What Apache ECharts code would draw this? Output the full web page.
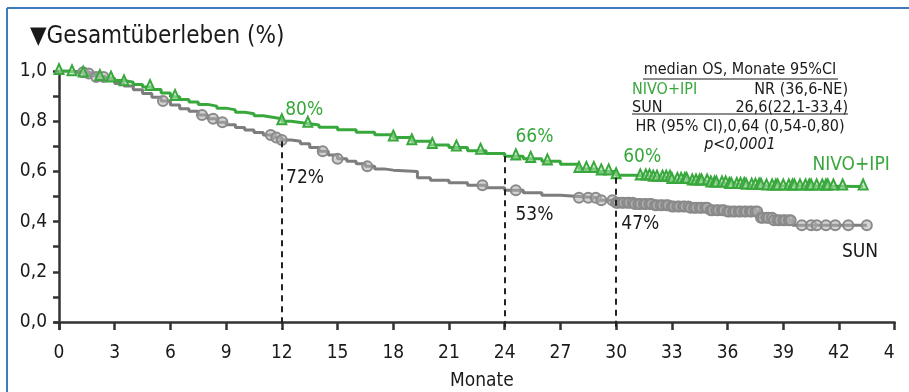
<!DOCTYPE html>
<html><head><meta charset="utf-8">
<script src="https://cdn.jsdelivr.net/npm/echarts@6/dist/echarts.min.js"></script>
<style>html,body{margin:0;padding:0;background:#fff}#c{width:909px;height:392px}</style>
</head><body><div id="c"></div>
<script>
// ---------- data ----------
const xTicks = [0,3,6,9,12,15,18,21,24,27,30,33,36,39,42,45];
const xTickLabels = ['0','3','6','9','12','15','18','21','24','27','30','33','36','39','42','4'];
const yLabelTicks = [0,0.2,0.4,0.6,0.8,1.0];
const yTickLabels = ['0,0','0,2','0,4','0,6','0,8','1,0'];
const yAllTicks = [0,0.1,0.2,0.3,0.4,0.5,0.6,0.7,0.8,0.9,1.0];

const nivoTimes = [0,0.5,1,1.5,2,2.5,3,3.5,4,4.5,5,5.5,6,6.5,7,7.5,8,8.5,9,9.5,10,10.5,11,11.5,12,12.5,13,13.5,14,15,16,17,18,19,20,21,22,23,24,25,26,27,28,29,30,31,32,33,34,35,36,37,38,43.3];
const nivoSurv  = [1.0,0.995,0.99,0.982,0.976,0.97,0.962,0.955,0.946,0.936,0.926,0.912,0.897,0.886,0.876,0.867,0.86,0.852,0.845,0.836,0.83,0.822,0.816,0.81,0.80,0.795,0.79,0.785,0.776,0.766,0.756,0.746,0.735,0.72,0.705,0.695,0.682,0.671,0.66,0.65,0.64,0.628,0.61,0.60,0.585,0.58,0.575,0.566,0.56,0.552,0.546,0.543,0.54,0.54];
const nivoCensor = [0,0.7,1.3,2.2,2.8,3.5,4.9,6.25,12,13.4,18,19,20.1,21.4,22.7,24.6,25.4,26.3,28,28.4,28.8,29.2,29.6,30,31.3,31.6,31.8,32.0,32.2,32.5,32.7,32.9,33.0,33.3,33.5,33.7,33.8,34.1,34.3,34.5,34.6,34.9,35.1,35.3,35.4,35.7,35.9,36.1,36.2,36.5,36.7,36.9,37.0,37.3,37.5,37.7,37.8,38.1,38.4,38.6,38.7,39.0,39.3,39.5,39.6,39.9,40.2,40.4,40.5,40.8,41.1,41.3,41.4,41.7,42.2,43.3];

const sunTimes = [0,0.5,1,1.5,2,2.5,3,3.5,4,4.5,5,5.5,6,6.5,7,7.5,8,8.5,9,9.5,10,10.5,11,11.5,12,12.5,13,13.5,14,14.5,15,15.5,16,16.5,17,17.5,18,19.3,20,21,22,23,24,25,26,27,28,29,30,31,32,33,34,35,36,37.7,38.5,39.5,43.5];
const sunSurv  = [1.0,0.998,0.995,0.99,0.976,0.965,0.95,0.94,0.925,0.91,0.895,0.88,0.865,0.85,0.84,0.825,0.81,0.796,0.786,0.775,0.765,0.755,0.745,0.735,0.725,0.72,0.71,0.695,0.68,0.665,0.65,0.64,0.63,0.62,0.61,0.605,0.60,0.575,0.565,0.555,0.545,0.535,0.525,0.515,0.505,0.50,0.495,0.485,0.475,0.47,0.465,0.46,0.455,0.445,0.44,0.415,0.405,0.385,0.385];
const sunCensor = [1.3,1.6,2.0,2.4,5.6,7.7,8.3,8.8,11.4,11.7,12,14.2,15,16.6,22.8,24.6,28,28.5,28.9,29.2,29.8,30.0,30.1,30.3,30.4,30.6,30.7,30.9,31.0,31.2,31.3,31.5,31.6,31.8,31.9,32.1,32.2,32.4,32.5,32.7,32.8,33.0,33.1,33.3,33.4,33.6,33.7,33.9,34.0,34.2,34.3,34.5,34.6,34.8,34.9,35.1,35.2,35.4,35.5,35.7,35.8,36.0,36.1,36.3,36.4,36.6,36.7,36.9,37.0,37.2,37.3,37.5,37.6,37.8,37.9,38.1,38.2,38.4,38.5,38.7,38.8,39.0,39.1,39.3,39.4,40,40.5,40.8,41.3,41.8,42.5,43.5];

const landmarkMonths = [12,24,30];
const landmarkTop = [0.72,0.66,0.575];
const nivoLandmarkLabels = ['80%','66%','60%'];
const sunLandmarkLabels = ['72%','53%','47%'];
const seriesNames = ['NIVO+IPI','SUN'];

// ---------- styles ----------
const FONT = "'DejaVu Sans Condensed','DejaVu Sans',sans-serif";
const GREEN = '#38a83c';
const GREY = '#7d7d7d';
const INK = '#1a1a1a';

function survAt(times, vals, t){
  let v = vals[0];
  for (let i=0;i<times.length;i++){ if (times[i] <= t) v = vals[i]; else break; }
  return v;
}
const nivoLine = nivoTimes.map((t,i)=>[t,nivoSurv[i]]);
const sunLine = sunTimes.map((t,i)=>[t,sunSurv[i]]);
const nivoMarks = nivoCensor.map(t=>[t,survAt(nivoTimes,nivoSurv,t)]);
const sunMarks = sunCensor.map(t=>[t,survAt(sunTimes,sunSurv,t)]);

const yMin = -0.028;
// label anchor positions (data coords)
const nivoLabelPos = [[13.2,0.845],[25.6,0.737],[31.4,0.657]];
const sunLabelPos = [[13.25,0.574],[25.6,0.426],[31.3,0.39]];
const nameLabelPos = [[42.65,0.625],[43.13,0.279]];

const chart = echarts.init(document.getElementById('c'), null, {renderer:'canvas'});
const textSeries = (pts, labels, colors) => ({
  type:'scatter', symbolSize:0, silent:true, z:5, itemStyle:{opacity:1},
  data: pts.map((p,i)=>({value:p, label:{formatter:labels[i], color:colors[i]}})),
  label:{show:true, position:'inside', fontFamily:FONT, fontSize:19}
});

chart.setOption({
  animation:false,
  grid:{left:55, right:14.3, top:71, bottom:63, containLabel:false, outerBoundsMode:'none'},
  xAxis:{
    type:'value', min:-0.215, max:45,
    name:'Monate', nameLocation:'middle', nameGap:43,
    nameTextStyle:{fontFamily:FONT, fontSize:19, color:INK, padding:[0,0,0,14]},
    axisLine:{show:true, lineStyle:{color:'#333', width:2.5}},
    axisTick:{show:true, customValues:xTicks, length:8, lineStyle:{color:'#333', width:2.5}},
    axisLabel:{customValues:xTicks, margin:15, fontFamily:FONT, fontSize:19, color:INK,
      formatter:(v)=>{const i=xTicks.indexOf(v); return i===xTicks.length-1 ? '{c|'+xTickLabels[i]+'}' : xTickLabels[i];},
      rich:{c:{fontFamily:FONT, fontSize:19, color:INK, padding:[0,11,0,0]}}},
    splitLine:{show:false}
  },
  yAxis:{
    type:'value', min:yMin, max:1.0,
    axisLine:{show:true, lineStyle:{color:'#333', width:2.5}},
    axisTick:{show:true, customValues:yAllTicks, length:6, lineStyle:{color:'#333', width:2.5}},
    axisLabel:{customValues:yLabelTicks, margin:8, fontFamily:FONT, fontSize:19, color:INK,
      formatter:(v)=>{let i=yLabelTicks.findIndex(t=>Math.abs(t-v)<1e-6); return yTickLabels[i];}},
    splitLine:{show:false}
  },
  series:[
    {name:'landmarks', type:'line', data:[], silent:true, z:1,
      markLine:{symbol:['none','none'], silent:true, label:{show:false},
        lineStyle:{color:'#222', width:2, type:[6,5]},
        data: landmarkMonths.map((m,i)=>[{coord:[m,landmarkTop[i]]},{coord:[m,yMin]}])}},
    {name:seriesNames[1], type:'line', step:'end', data:sunLine, showSymbol:false, z:2,
      lineStyle:{color:GREY, width:3}},
    {name:seriesNames[1]+' zensiert', type:'scatter', data:sunMarks, symbol:'circle', symbolSize:10, z:3,
      itemStyle:{opacity:1, color:'rgba(175,175,175,0.55)', borderColor:'#8a8a8a', borderWidth:2}},
    {name:seriesNames[0], type:'line', step:'end', data:nivoLine, showSymbol:false, z:2,
      lineStyle:{color:GREEN, width:3}},
    {name:seriesNames[0]+' zensiert', type:'scatter', data:nivoMarks, symbol:'triangle', symbolSize:[9,10], symbolOffset:[0,-2], z:3,
      itemStyle:{opacity:1, color:'rgba(170,220,170,0.6)', borderColor:GREEN, borderWidth:2}},
    textSeries(nivoLabelPos, nivoLandmarkLabels, [GREEN,GREEN,GREEN]),
    textSeries(sunLabelPos, sunLandmarkLabels, [INK,INK,INK]),
    textSeries(nameLabelPos, seriesNames, [GREEN,INK])
  ],
  graphic:[
    {type:'line', shape:{x1:7,y1:8,x2:909,y2:8}, style:{stroke:'#3f7bbd', lineWidth:2}},
    {type:'line', shape:{x1:7,y1:8,x2:7,y2:392}, style:{stroke:'#3f7bbd', lineWidth:2}},
    {type:'text', x:30, y:37, style:{text:'▼Gesamtüberleben (%)', font:'24px '+FONT, fill:INK, verticalAlign:'middle'}},
    {type:'text', x:740, y:70, style:{text:'median OS, Monate 95%CI', font:'16px '+FONT, fill:INK, align:'center', verticalAlign:'middle'}},
    {type:'line', shape:{x1:643,y1:79,x2:838,y2:79}, style:{stroke:INK, lineWidth:1}},
    {type:'text', x:632, y:90, style:{text:'NIVO+IPI', font:'16px '+FONT, fill:GREEN, verticalAlign:'middle'}},
    {type:'text', x:848, y:90, style:{text:'NR (36,6-NE)', font:'16px '+FONT, fill:INK, align:'right', verticalAlign:'middle'}},
    {type:'text', x:632, y:108, style:{text:'SUN', font:'16px '+FONT, fill:INK, verticalAlign:'middle'}},
    {type:'text', x:848, y:108, style:{text:'26,6(22,1-33,4)', font:'16px '+FONT, fill:INK, align:'right', verticalAlign:'middle'}},
    {type:'line', shape:{x1:632,y1:114,x2:848,y2:114}, style:{stroke:INK, lineWidth:1}},
    {type:'text', x:740, y:127, style:{text:'HR (95% CI),0,64 (0,54-0,80)', font:'16px '+FONT, fill:INK, align:'center', verticalAlign:'middle'}},
    {type:'text', x:740, y:145, style:{text:'p<0,0001', font:'italic 16px '+FONT, fill:INK, align:'center', verticalAlign:'middle'}}
  ]
});
</script></body></html>
